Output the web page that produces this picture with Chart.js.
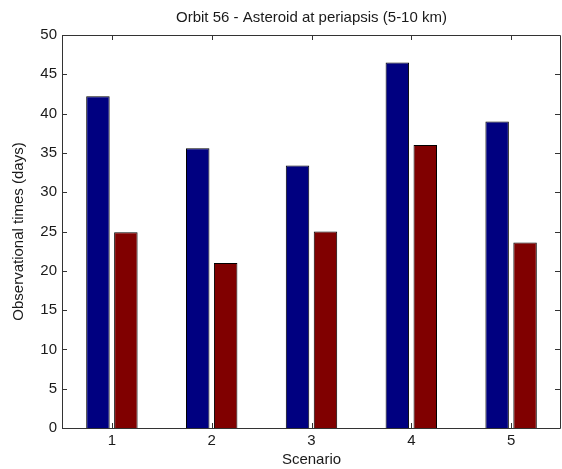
<!DOCTYPE html>
<html>
<head>
<meta charset="utf-8">
<script src="https://cdn.jsdelivr.net/npm/chart.js@4/dist/chart.umd.min.js"></script>
<style>
html,body{margin:0;padding:0;background:#fff;}
#wrap{width:562px;height:469px;position:relative;}
</style>
</head>
<body>
<div id="wrap"><canvas id="c" width="562" height="469"></canvas></div>
<script>
const categories = ['1', '2', '3', '4', '5'];
const seriesA = [42.2, 35.6, 33.4, 46.5, 39.0];
const seriesB = [24.9, 21.0, 25.0, 36.0, 23.6];
const yTicks = [0, 5, 10, 15, 20, 25, 30, 35, 40, 45, 50];

const FONT = '"Liberation Sans", Arial, sans-serif';
const TXT = '#1a1a1a';
const AX = '#333333';

const frame = {
  id: 'frame',
  afterDatasetsDraw(chart) {
    const ctx = chart.ctx, a = chart.chartArea;
    const xs = chart.scales.x, ys = chart.scales.y;
    ctx.save();
    ctx.strokeStyle = AX;
    ctx.lineWidth = 1;
    ctx.beginPath();
    ctx.rect(Math.round(a.left) + 0.5, Math.round(a.top) + 0.5,
             Math.round(a.right - a.left) - 1, Math.round(a.bottom - a.top));
    ctx.stroke();
    const L = 5;
    ctx.beginPath();
    yTicks.forEach(v => {
      const y = Math.round(ys.getPixelForValue(v)) + 0.5;
      ctx.moveTo(a.left, y); ctx.lineTo(a.left + L, y);
      ctx.moveTo(a.right - 1, y); ctx.lineTo(a.right - 1 - L, y);
    });
    categories.forEach((c, i) => {
      const x = Math.round(xs.getPixelForValue(i)) + 0.5;
      ctx.moveTo(x, a.bottom); ctx.lineTo(x, a.bottom - L);
      ctx.moveTo(x, a.top); ctx.lineTo(x, a.top + L);
    });
    ctx.stroke();
    ctx.restore();
  }
};

new Chart(document.getElementById('c'), {
  type: 'bar',
  data: {
    labels: categories,
    datasets: [
      { data: seriesA, backgroundColor: '#000080', borderColor: '#000', borderWidth: 1 },
      { data: seriesB, backgroundColor: '#800000', borderColor: '#000', borderWidth: 1 }
    ]
  },
  options: {
    responsive: false,
    animation: false,
    devicePixelRatio: 1,
    layout: { padding: { left: 0, right: 1, top: 0, bottom: 0 } },
    datasets: { bar: { categoryPercentage: 0.56, barPercentage: 0.84 } },
    plugins: {
      legend: { display: false },
      tooltip: { enabled: false },
      title: {
        display: true,
        fullSize: false,
        text: 'Orbit 56 - Asteroid at periapsis (5-10 km)',
        color: TXT,
        font: { family: FONT, size: 15, weight: 'normal' },
        padding: { top: 9, bottom: 8 }
      }
    },
    scales: {
      x: {
        grid: { display: false, drawTicks: false },
        border: { display: false },
        ticks: { color: TXT, font: { family: FONT, size: 15 }, padding: 4 },
        title: { display: true, text: 'Scenario', color: TXT, font: { family: FONT, size: 15 }, padding: { top: 1, bottom: 0 } },
        afterFit(s) { s.height = 41; }
      },
      y: {
        min: 0, max: 50,
        afterBuildTicks(s) { s.ticks = yTicks.map(v => ({ value: v })); },
        grid: { display: false, drawTicks: false },
        border: { display: false },
        ticks: { color: TXT, font: { family: FONT, size: 15 }, padding: 5 },
        title: { display: true, text: 'Observational times (days)', color: TXT, font: { family: FONT, size: 15 }, padding: { top: 10, bottom: 0 } },
        afterFit(s) { s.width = 62; }
      }
    }
  },
  plugins: [frame]
});
</script>
</body>
</html>
